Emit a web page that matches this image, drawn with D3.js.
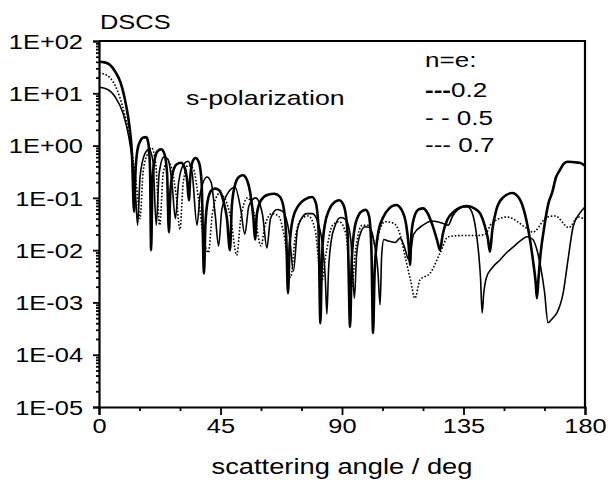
<!DOCTYPE html>
<html>
<head>
<meta charset="utf-8">
<script src="https://cdn.jsdelivr.net/npm/d3@7"></script>
<style>
  body { margin: 0; background: #fff; }
  text { font-family: Arial, "Liberation Sans", sans-serif; fill: #000; }
</style>
</head>
<body>
<div id="chart"></div>
<script>
// angle (deg), DSCS
const dscs02 = [
  [0,40],[2,39],[4,35],[6,26],[8,16],[10,6],[11.2,2.5],[12.2,0.7],[13,0.054],
  [13.5,0.3],[14.2,0.8],[15.2,1.2],[16.4,1.42],[17.5,1.45],[18.3,1.1],[18.9,0.35],[19.3,0.01],
  [19.8,0.2],[20.5,0.5],[21.7,0.78],[23,0.85],[24.2,0.7],[25.2,0.3],[25.9,0.022],
  [26.4,0.12],[27.3,0.3],[28.8,0.44],[30.4,0.47],[31.7,0.38],[32.7,0.2],[33.3,0.09],
  [33.8,0.25],[34.7,0.5],[35.8,0.58],[37,0.48],[38,0.2],[38.9,0.0036],
  [39.4,0.03],[40.3,0.09],[41.7,0.14],[43,0.15],[44.5,0.14],[46,0.09],[47.4,0.04],[48.5,0.01],
  [49.2,0.07],[50.3,0.17],[51.8,0.25],[53.3,0.27],[54.8,0.22],[56.3,0.1],[57.2,0.04],[57.8,0.016],
  [58.5,0.05],[60,0.09],[62.5,0.115],[65,0.12],[67,0.105],[68.5,0.06],[69.4,0.015],[70,0.0015],
  [70.6,0.012],[71.8,0.04],[73.8,0.07],[76.5,0.095],[78.9,0.104],[80.3,0.08],[81.3,0.025],[82,0.0004],
  [82.6,0.008],[83.6,0.03],[85.3,0.06],[87.3,0.083],[89,0.09],[90.7,0.07],[92.1,0.02],[93,0.00034],
  [93.6,0.006],[94.6,0.025],[96.2,0.047],[97.7,0.057],[98.8,0.059],[100,0.045],[100.9,0.01],[101.5,0.00026],
  [102.1,0.004],[103.3,0.02],[105.2,0.042],[107.5,0.063],[110,0.073],[112,0.06],[113.8,0.03],[114.7,0.012],[115.2,0.0052],
  [115.7,0.02],[116.7,0.042],[118.4,0.06],[120,0.063],[121.8,0.05],[123.5,0.03],[125.3,0.015],[126.3,0.01],
  [127.3,0.02],[129,0.038],[131.5,0.055],[134,0.066],[136.5,0.07],[139,0.063],[141.2,0.05],[142.8,0.03],[144,0.017],[144.8,0.0093],
  [145.7,0.025],[147.2,0.06],[149.5,0.1],[153,0.124],[155.5,0.1],[157.5,0.055],[159.3,0.02],[160.8,0.006],[161.7,0.0025],[162.2,0.0012],
  [162.8,0.003],[163.5,0.008],[165,0.03],[166.5,0.08],[167.8,0.124],[169.3,0.25],[170.7,0.34],[172,0.44],[173.5,0.49],
  [176,0.48],[178,0.47],[180,0.41]
];

const dscs05 = [
  [0,13],[3,12],[6,8.5],[9,4],[11,1.5],[12.5,0.45],[13.6,0.1],[14.3,0.03],[15.2,0.25],[17,0.7],[18.5,0.85],[20,0.5],
  [21.2,0.03],[22.3,0.3],[24,0.6],[25.5,0.55],[27,0.2],[28.3,0.04],[29.5,0.2],[31.5,0.45],[33,0.5],[34.5,0.3],
  [36.3,0.03],[37.5,0.12],[40,0.25],[41.5,0.2],[43,0.05],[44.3,0.012],[45.5,0.06],[48,0.13],[50.4,0.16],[52.5,0.06],
  [54,0.02],[55.5,0.07],[58,0.1],[60.5,0.05],[62.2,0.011],[63.5,0.04],[66,0.06],[68,0.055],[70.5,0.02],[72,0.004],
  [73.5,0.025],[75,0.04],[77,0.05],[79,0.05],[81,0.035],[82.8,0.012],[83.8,0.003],[84.4,0.0006],
  [85,0.004],[86,0.015],[87.5,0.03],[89.5,0.042],[91.5,0.038],[93.3,0.015],[94.6,0.0012],
  [95.4,0.008],[96.7,0.02],[98.5,0.028],[100.3,0.027],[101.8,0.015],[103.3,0.004],[104.1,0.0009],
  [104.7,0.008],[105.5,0.016],[107,0.015],[109.7,0.014],[111.5,0.017],[113,0.012],[114.8,0.0065],
  [116.5,0.02],[120,0.03],[123.3,0.036],[127,0.033],[129.3,0.03],[131,0.045],[133,0.06],[135,0.067],[136.5,0.067],
  [138,0.055],[139.3,0.03],[140.5,0.01],[141.3,0.003],[141.9,0.00063],
  [142.5,0.0015],[143.5,0.003],[145.5,0.0045],[148.5,0.0065],[151,0.009],[153,0.011],[156,0.015],[158.5,0.018],
  [160.7,0.016],[162,0.011],[163.5,0.005],[165,0.0016],[166.3,0.00041],[168,0.0005],[169.6,0.00063],[171.9,0.0015],
  [173.7,0.0065],[175.6,0.028],[178.1,0.051],[180,0.067]
];

const dscs07 = [
  [0,24.5],[3,22],[6,14],[9,5],[11,1.8],[12.5,0.6],[14,0.15],[15.2,0.04],[16.3,0.3],[18,0.7],[19.5,0.9],[21,0.45],
  [22.5,0.03],[23.8,0.3],[25.5,0.5],[27,0.35],[28.5,0.12],[30,0.025],[31.2,0.2],[33,0.42],[35,0.35],[36.8,0.1],
  [38.5,0.02],[40.5,0.009],[42,0.05],[44.5,0.12],[46.5,0.1],[48.8,0.04],[51,0.008],[52.5,0.04],[55,0.1],[57.5,0.05],
  [60,0.012],[61.5,0.03],[64,0.05],[66.5,0.045],[68.5,0.02],[71,0.003],[72.5,0.015],[75,0.04],[77.5,0.045],[80,0.025],
  [82.5,0.0025],[84,0.008],[86.5,0.03],[89,0.035],[91.5,0.02],[93.5,0.0018],[95,0.01],[97.5,0.03],[100,0.03],
  [102.5,0.012],[104,0.025],[106,0.035],[109,0.033],[111.5,0.02],[113.5,0.007],[115.5,0.0025],[117,0.0012],
  [118.9,0.0027],[122.6,0.0036],[126.3,0.0087],[129.3,0.018],[134,0.019],[140,0.019],[143,0.02],[145.5,0.033],
  [151,0.043],[158.5,0.026],[160.7,0.022],[166,0.043],[169,0.045],[174,0.027],[177.5,0.043],[180,0.038]
];

const xMajor = [0, 45, 90, 135, 180];
const xMinor = [15, 30, 60, 75, 105, 120, 150, 165];
const yMajor = [1e-5, 1e-4, 1e-3, 1e-2, 1e-1, 1, 10, 100];
const yLabels = ["1E-05", "1E-04", "1E-03", "1E-02", "1E-01", "1E+00", "1E+01", "1E+02"];
const legendItems = [
  {dash: "---", label: "0.2", bold: true},
  {dash: "- - ", label: "0.5", bold: false},
  {dash: "--- ", label: "0.7", bold: false}
];

const sx = 1.27; // glyphs in the original are stretched horizontally
const margin = {top: 41, right: 25, bottom: 83, left: 99};
const width = 610 - margin.left - margin.right;
const height = 490 - margin.top - margin.bottom;

const svg = d3.select("#chart").append("svg")
    .attr("width", 610)
    .attr("height", 490);

const g = svg.append("g")
    .attr("transform", `translate(${margin.left},${margin.top})`);

const x = d3.scaleLinear().domain([0, 180]).range([0, width]);
const y = d3.scaleLog().domain([1e-5, 100]).range([height, 0]);

// y minor ticks
let yMinor = [];
yMajor.slice(0, -1).forEach(d => {
    for (let k = 2; k <= 9; k++) yMinor.push(d * k);
});

g.append("g")
    .attr("class", "y-minor")
    .call(d3.axisLeft(y).tickValues(yMinor).tickSize(3).tickFormat(""))
    .call(a => a.select(".domain").remove())
    .selectAll("line").attr("stroke-width", 1.5);

g.append("g")
    .attr("class", "x-minor")
    .attr("transform", `translate(0,${height})`)
    .call(d3.axisBottom(x).tickValues(xMinor).tickSize(4).tickFormat(""))
    .call(a => a.select(".domain").remove())
    .selectAll("line").attr("stroke-width", 1.5);

let yAxis = g.append("g")
    .attr("class", "y-axis")
    .call(d3.axisLeft(y).tickValues(yMajor).tickSize(6).tickPadding(10)
        .tickFormat((d, i) => yLabels[i]));

yAxis.selectAll("text")
    .attr("font-size", 20)
    .attr("x", -16 / sx)
    .attr("dy", "0.36em")
    .attr("transform", `scale(${sx},1)`);

let xAxis = g.append("g")
    .attr("class", "x-axis")
    .attr("transform", `translate(0,${height})`)
    .call(d3.axisBottom(x).tickValues(xMajor).tickSize(8).tickPadding(4));

xAxis.selectAll("text")
    .attr("font-size", 20)
    .attr("transform", `scale(${sx},1)`);

svg.selectAll(".domain").attr("stroke-width", 2.2);
svg.selectAll(".tick line").attr("stroke-width", 1.8);

// frame top and right
g.append("path")
    .attr("d", `M0,0H${width}V${height}`)
    .attr("fill", "none")
    .attr("stroke", "#000")
    .attr("stroke-width", 2.2);

const line = d3.line()
    .x(d => x(d[0]))
    .y(d => y(d[1]))
    .curve(d3.curveMonotoneX);

g.append("path").datum(dscs07)
    .attr("fill", "none")
    .attr("stroke", "#000")
    .attr("stroke-width", 1.6)
    .attr("stroke-dasharray", "1.6,1.8")
    .attr("d", line);

g.append("path").datum(dscs05)
    .attr("fill", "none")
    .attr("stroke", "#000")
    .attr("stroke-width", 1.6)
    .attr("d", line);

g.append("path").datum(dscs02)
    .attr("fill", "none")
    .attr("stroke", "#000")
    .attr("stroke-width", 2.6)
    .attr("d", line);

// texts
function stretched(parent, tx, ty, str, size) {
    return parent.append("text")
        .attr("transform", `translate(${tx},${ty}) scale(${sx},1)`)
        .attr("font-size", size)
        .text(str);
}

stretched(svg, 100, 29, "DSCS", 20);
stretched(svg, 186, 105, "s-polarization", 21);
stretched(svg, margin.left + width / 2, 474, "scattering angle / deg", 21.5)
    .attr("text-anchor", "middle");

stretched(svg, 425, 67, "n=e:", 20.5);
legendItems.forEach((d, i) => {
    let t = svg.append("text")
        .attr("transform", `translate(425,${97 + i * 27.5}) scale(${sx},1)`)
        .attr("font-size", 20.5);
    t.append("tspan").attr("font-weight", d.bold ? "bold" : "normal").text(d.dash);
    t.append("tspan").text(d.label);
});
</script>
</body>
</html>
